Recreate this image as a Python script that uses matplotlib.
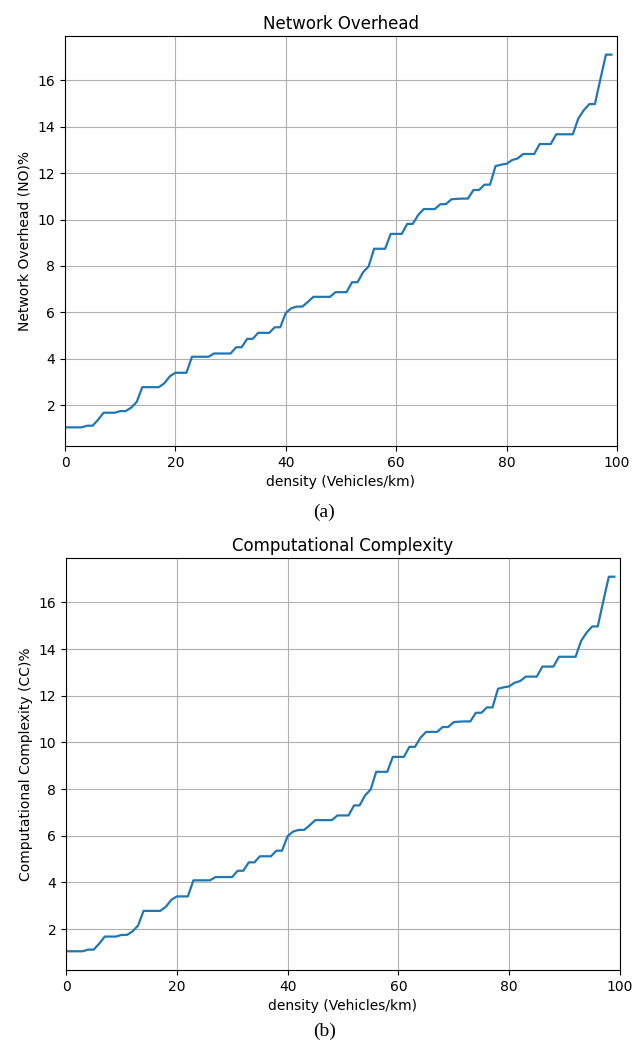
import numpy as np
import matplotlib
matplotlib.use('Agg')
import matplotlib.pyplot as plt

# density values (Vehicles/km)
density = np.arange(0, 100)

# overhead (%) per density step; both panels show the same curve
overhead = [1.05, 1.05, 1.05, 1.05, 1.12, 1.12, 1.38, 1.68, 1.68, 1.68,
            1.75, 1.75, 1.90, 2.15, 2.78, 2.78, 2.78, 2.78, 2.95, 3.25,
            3.40, 3.40, 3.40, 4.09, 4.09, 4.09, 4.09, 4.23, 4.23, 4.23,
            4.23, 4.50, 4.50, 4.86, 4.86, 5.12, 5.12, 5.12, 5.36, 5.36,
            5.98, 6.18, 6.25, 6.25, 6.45, 6.67, 6.67, 6.67, 6.67, 6.87,
            6.87, 6.87, 7.30, 7.30, 7.73, 7.98, 8.74, 8.74, 8.74, 9.38,
            9.38, 9.38, 9.81, 9.81, 10.20, 10.45, 10.45, 10.45, 10.66, 10.66,
            10.87, 10.89, 10.90, 10.90, 11.27, 11.27, 11.50, 11.50, 12.30, 12.36,
            12.40, 12.56, 12.63, 12.82, 12.82, 12.82, 13.25, 13.25, 13.25, 13.67,
            13.67, 13.67, 13.67, 14.35, 14.71, 14.97, 14.97, 16.05, 17.10, 17.10]
complexity = list(overhead)

titles = ['Network Overhead', 'Computational Complexity']
ylabels = ['Network Overhead (NO)%', 'Computational Complexity (CC)%']
captions = ['(a)', '(b)']

# ========================================================================
fig = plt.figure(figsize=(6.33, 10.43), dpi=100)

boxes = [[0.1027, 0.5724, 0.872, 0.3931],
         [0.1043, 0.0700, 0.875, 0.3950]]
caption_y = [0.509, 0.0115]

for box, yvals, title, ylab, cap, cy in zip(boxes, [overhead, complexity],
                                            titles, ylabels, captions, caption_y):
    ax = fig.add_axes(box)
    ax.plot(density, yvals, color='#1f77b4', lw=1.6)
    ax.set_xlim(0, 100)
    ax.set_title(title, fontsize=12, pad=5)
    ax.set_xlabel('density (Vehicles/km)')
    ax.set_ylabel(ylab)
    ax.grid(True)
    fig.text(0.512, cy, cap, ha='center', va='center',
             family=['Liberation Serif', 'DejaVu Serif'], fontsize=14)

plt.savefig('out.png', dpi=100)
